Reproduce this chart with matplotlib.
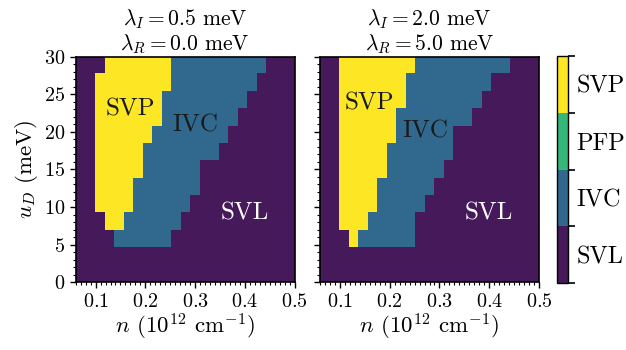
import numpy as np
import matplotlib
matplotlib.use("Agg")
import matplotlib.pyplot as plt
from matplotlib.colors import ListedColormap, BoundaryNorm
from matplotlib.ticker import MultipleLocator, FixedLocator, FixedFormatter

plt.rcParams['font.family'] = 'serif'
plt.rcParams['font.serif'] = ['cmr10']
plt.rcParams['mathtext.fontset'] = 'cm'
plt.rcParams['axes.formatter.use_mathtext'] = True

# ---- data ----
phase_names = ['SVL', 'IVC', 'PFP', 'SVP']
phase_colors = ['#45195a', '#30688e', '#35b779', '#fde725']
n_range = [0.06, 0.5]     # density (1e12 cm^-1)
u_range = [0.0, 30.0]     # u_D (meV)

titles = [r"$\lambda_I = 0.5$ meV" + "\n" + r"$\lambda_R = 0.0$ meV",
          r"$\lambda_I = 2.0$ meV" + "\n" + r"$\lambda_R = 5.0$ meV"]

# phase codes: 0=SVL 1=IVC 2=PFP 3=SVP ; rows listed from top (u=30) to bottom (u=0)
phase_left = [
    "00033333331111111111000",
    "00333333331111111110000",
    "00333333311111111100000",
    "00333333311111111000000",
    "00333333111111110000000",
    "00333331111111100000000",
    "00333331111110000000000",
    "00333311111110000000000",
    "00333311111100000000000",
    "00033111111000000000000",
    "00001111110000000000000",
    "00000000000000000000000",
    "00000000000000000000000",
]
phase_right = [
    "00333333331111111111000",
    "00333333311111111100000",
    "00333333311111111000000",
    "00333333111111110000000",
    "00333333111111000000000",
    "00333331111111000000000",
    "00333331111110000000000",
    "00333311111100000000000",
    "00333311111000000000000",
    "00333111110000000000000",
    "00031111110000000000000",
    "00000000000000000000000",
    "00000000000000000000000",
]
label_left = [('SVP', 0.170, 23.0, '#1a1a1a'), ('IVC', 0.300, 20.9, '#1a1a1a'), ('SVL', 0.400, 9.2, 'white')]
label_right = [('SVP', 0.160, 23.8, '#1a1a1a'), ('IVC', 0.272, 20.1, '#1a1a1a'), ('SVL', 0.400, 9.2, 'white')]

grids = [np.array([[int(c) for c in row] for row in g]) for g in (phase_left, phase_right)]
labels = [label_left, label_right]

cmap = ListedColormap(phase_colors)
norm = BoundaryNorm([-0.5, 0.5, 1.5, 2.5, 3.5], 4)

W, H = 626, 350
fig = plt.figure(figsize=(W / 100, H / 100), dpi=100)
bot = (H - 282.3) / H
hgt = (282.3 - 56.5) / H
axes = [fig.add_axes([75.7 / W, bot, 218.8 / W, hgt]),
        fig.add_axes([320.0 / W, bot, 219.0 / W, hgt])]

for i, ax in enumerate(axes):
    im = ax.imshow(grids[i], origin='upper', extent=[n_range[0], n_range[1], u_range[0], u_range[1]],
                   aspect='auto', cmap=cmap, norm=norm, interpolation='nearest')
    ax.set_xlim(n_range)
    ax.set_ylim(u_range)
    ax.xaxis.set_major_locator(MultipleLocator(0.1))
    ax.xaxis.set_minor_locator(MultipleLocator(0.01))
    ax.yaxis.set_major_locator(MultipleLocator(5))
    ax.yaxis.set_minor_locator(MultipleLocator(1))
    ax.tick_params(which='major', direction='out', length=4.5, width=1.0, labelsize=14.5, pad=3)
    ax.tick_params(which='minor', direction='out', length=2.5, width=0.8)
    for s in ax.spines.values():
        s.set_linewidth(1.2)
    ax.set_xlabel(r"$n$ ($10^{12}$ cm$^{-1}$)", fontsize=16.5, labelpad=1)
    ax.set_title(titles[i], fontsize=15.5, pad=5, linespacing=1.1)
    for (txt, x, y, col) in labels[i]:
        ax.text(x, y, txt, color=col, fontsize=18, ha='center', va='center')
    if i == 0:
        ax.set_ylabel(r"$u_D$ (meV)", fontsize=16.5, labelpad=3)
    else:
        ax.tick_params(labelleft=False)

cax = fig.add_axes([556.5 / W, (H - 283.3) / H, 11.5 / W, (283.3 - 55.7) / H])
cb = fig.colorbar(im, cax=cax)
cb.set_ticks([-0.5, 0.5, 1.5, 2.5, 3.5])
cb.ax.set_yticklabels([''] * 5)
cb.ax.tick_params(which='major', length=5, width=1.2)
cb.ax.yaxis.set_minor_locator(FixedLocator([0, 1, 2, 3]))
cb.ax.yaxis.set_minor_formatter(FixedFormatter(phase_names))
cb.ax.tick_params(which='minor', length=0, labelsize=17.5, pad=6)
cb.outline.set_linewidth(1.0)

fig.savefig("out.png", dpi=100)
